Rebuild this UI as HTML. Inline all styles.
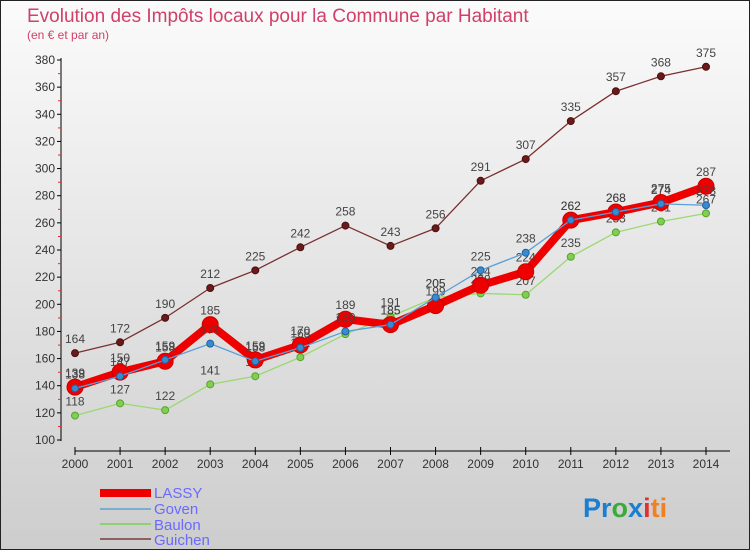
<!DOCTYPE html>
<html><head><meta charset="utf-8"><style>
body{margin:0;width:750px;height:550px;overflow:hidden;font-family:"Liberation Sans",sans-serif}
svg{display:block}
</style></head><body>
<svg id="chart" width="750" height="550" xmlns="http://www.w3.org/2000/svg">
<defs><linearGradient id="bg" x1="0" y1="0" x2="0" y2="1"><stop offset="0" stop-color="#fbfbfb"/><stop offset="1" stop-color="#cdcdcd"/></linearGradient></defs>
<rect x="0.5" y="0.5" width="749" height="549" fill="url(#bg)" stroke="#222"/>
<text x="27" y="22" font-size="19" fill="#d0406a">Evolution des Impôts locaux pour la Commune par Habitant</text>
<text x="27" y="39" font-size="12" fill="#d0406a">(en € et par an)</text>
<g id="axes"></g><g id="series"></g>
<g font-size="15" fill="#6a6aff">
<rect x="100" y="489" width="51" height="8" fill="#e00"/><text x="154" y="498">LASSY</text>
<line x1="100" y1="509" x2="151" y2="509" stroke="#7aaed0" stroke-width="2"/><text x="154" y="514">Goven</text>
<line x1="100" y1="524" x2="151" y2="524" stroke="#90d070" stroke-width="2"/><text x="154" y="530">Baulon</text>
<line x1="100" y1="539" x2="151" y2="539" stroke="#906060" stroke-width="2"/><text x="154" y="545">Guichen</text>
</g>
<text x="583" y="517" font-size="27" font-weight="bold"><tspan fill="#1a7fd0">Pr</tspan><tspan fill="#3aaa3a">o</tspan><tspan fill="#1a7fd0">x</tspan><tspan fill="#e03030">i</tspan><tspan fill="#f08020">ti</tspan></text>
</svg>
<script>
const years=[2000,2001,2002,2003,2004,2005,2006,2007,2008,2009,2010,2011,2012,2013,2014];
const yTicks=[100,120,140,160,180,200,220,240,260,280,300,320,340,360,380];
const lassy=[139,150,158,185,159,170,189,185,199,214,224,262,268,275,287];
const goven=[138,147,159,171,158,168,180,185,205,225,238,262,268,274,273];
const baulon=[118,127,122,141,147,161,178,191,205,208,207,235,253,261,267];
const guichen=[164,172,190,212,225,242,258,243,256,291,307,335,357,368,375];
const NS='http://www.w3.org/2000/svg';
const xs=i=>75+i*(706-75)/14;
const ys=v=>440-(v-100)*(380/280);
function mk(tag,attrs,parent,txt){const e=document.createElementNS(NS,tag);for(const k in attrs)e.setAttribute(k,attrs[k]);if(txt!==undefined)e.textContent=txt;parent.appendChild(e);return e;}
const ax=document.getElementById('axes');
const yl=mk('line',{x1:61,y1:58,x2:61,y2:441,stroke:'#000'},ax);


yTicks.forEach(v=>{const y=ys(v);
 mk('line',{x1:57,y1:y,x2:61,y2:y,stroke:'#000'},ax);
 if(v<380)mk('line',{x1:58,y1:y-13.5,x2:61,y2:y-13.5,stroke:'#e03030'},ax);
 const t=mk('text',{x:55,y:y+4,'text-anchor':'end','font-size':12,fill:'#333'},ax,v);
 
 
});
const xl=mk('line',{x1:75,y1:451,x2:730,y2:451,stroke:'#000'},ax);


years.forEach((yr,i)=>{const x=xs(i);
 mk('line',{x1:x,y1:447,x2:x,y2:455,stroke:'#000'},ax);
 const t=mk('text',{x:x,y:468,'text-anchor':'middle','font-size':12,fill:'#333'},ax,yr);
 
 
});
const sg=document.getElementById('series');
function series(name,data,color,w,r,dot,dotStroke){
 const g=mk('g',{},sg);
 
 
 mk('polyline',{points:data.map((v,i)=>xs(i)+','+ys(v)).join(' '),fill:'none',stroke:color,'stroke-width':w,'stroke-linejoin':'round'},g);
 data.forEach((v,i)=>{
  const c=mk('circle',{cx:xs(i),cy:ys(v),r:r,fill:dot,stroke:dotStroke,'stroke-width':1},g);
  
  
  const t=mk('text',{x:xs(i),y:ys(v)-10,'text-anchor':'middle','font-size':12,fill:'#444'},g,v);
  
  
 });
}
series('guichen',guichen,'#7a3030',1.3,3.5,'#6a1a1a','#4a1010');
series('baulon',baulon,'#9ad870',1.3,3.5,'#80d050','#5aa030');
series('lassy',lassy,'#ee0000',8,8,'#ee0000','#cc0000');
series('goven',goven,'#5aa0d8',1.3,3.5,'#3a8ad0','#2060a0');
</script>
</body></html>
